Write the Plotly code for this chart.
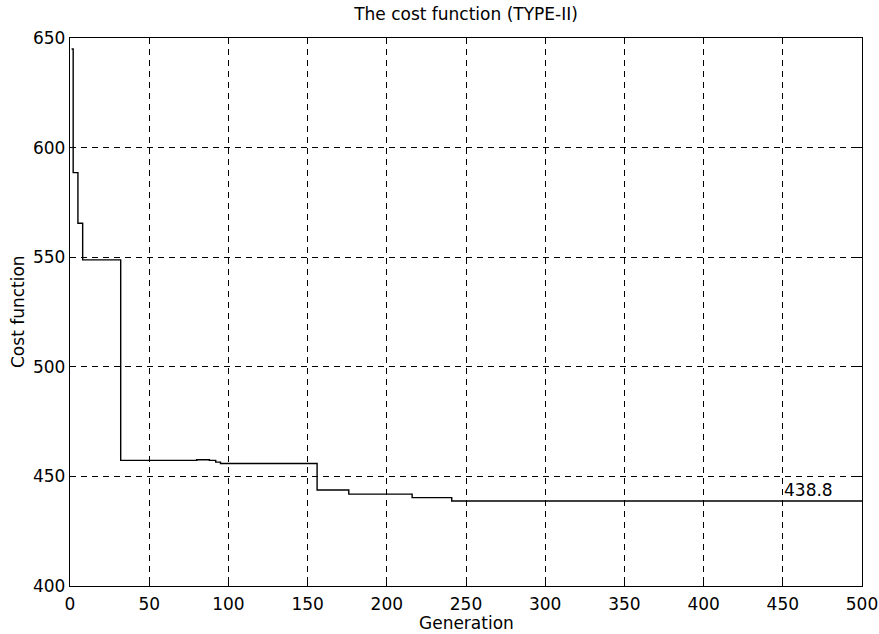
import plotly.graph_objects as go

# Breakpoints of the best-cost curve (generation where a new level starts, cost level)
generation = [1, 2, 5, 8, 32, 80, 88, 92, 95, 156, 176, 216, 241, 500]
cost = [645.0, 588.6, 565.5, 548.8, 457.3, 457.6, 457.3, 456.5, 455.9, 443.8, 441.9, 440.3, 438.8, 438.8]

x_ticks = [0, 50, 100, 150, 200, 250, 300, 350, 400, 450, 500]
y_ticks = [400, 450, 500, 550, 600, 650]
final_label = "438.8"
label_pos = (450, 443.6)

FONT = "DejaVu Sans, Verdana, sans-serif"
FS = 17
TXT = dict(family=FONT, size=FS, color="black")

fig = go.Figure()
fig.add_trace(go.Scatter(
    x=generation, y=cost, mode="lines", line_shape="hv",
    line=dict(color="black", width=1.4), showlegend=False,
))

fig.add_annotation(
    x=label_pos[0], y=label_pos[1], text=final_label, showarrow=False,
    xanchor="left", yanchor="middle", xshift=-1, font=TXT,
)
# axis titles
fig.add_annotation(
    xref="paper", yref="paper", x=0.5, y=0, text="Generation", showarrow=False,
    xanchor="center", yanchor="middle", yshift=-37, font=TXT,
)
fig.add_annotation(
    xref="paper", yref="paper", x=0, y=0.5, text="Cost function", showarrow=False,
    xanchor="center", yanchor="middle", xshift=-52, textangle=-90, font=TXT,
)

axis_common = dict(
    showline=True, linecolor="black", linewidth=1.4, mirror="ticks",
    ticks="inside", ticklen=5, tickcolor="black",
    showgrid=True, gridcolor="black", gridwidth=1, griddash="6px,5px",
    zeroline=False, tickfont=TXT, automargin=False,
)

fig.update_xaxes(range=[0, 500], tickvals=x_ticks, ticklabelstandoff=2, **axis_common)
fig.update_yaxes(range=[400, 650], tickvals=y_ticks, **axis_common)

fig.update_layout(
    width=879, height=634,
    margin=dict(l=70, r=17, t=38, b=48),
    paper_bgcolor="white", plot_bgcolor="white",
    title=dict(text="The cost function (TYPE-II)", xref="paper", x=0.5, xanchor="center",
               yref="container", y=1 - 14 / 634, yanchor="middle", font=TXT),
)

fig.write_html("out.html", config={"displayModeBar": False},
               post_script="document.body.style.margin='0';document.body.style.overflow='hidden';")
